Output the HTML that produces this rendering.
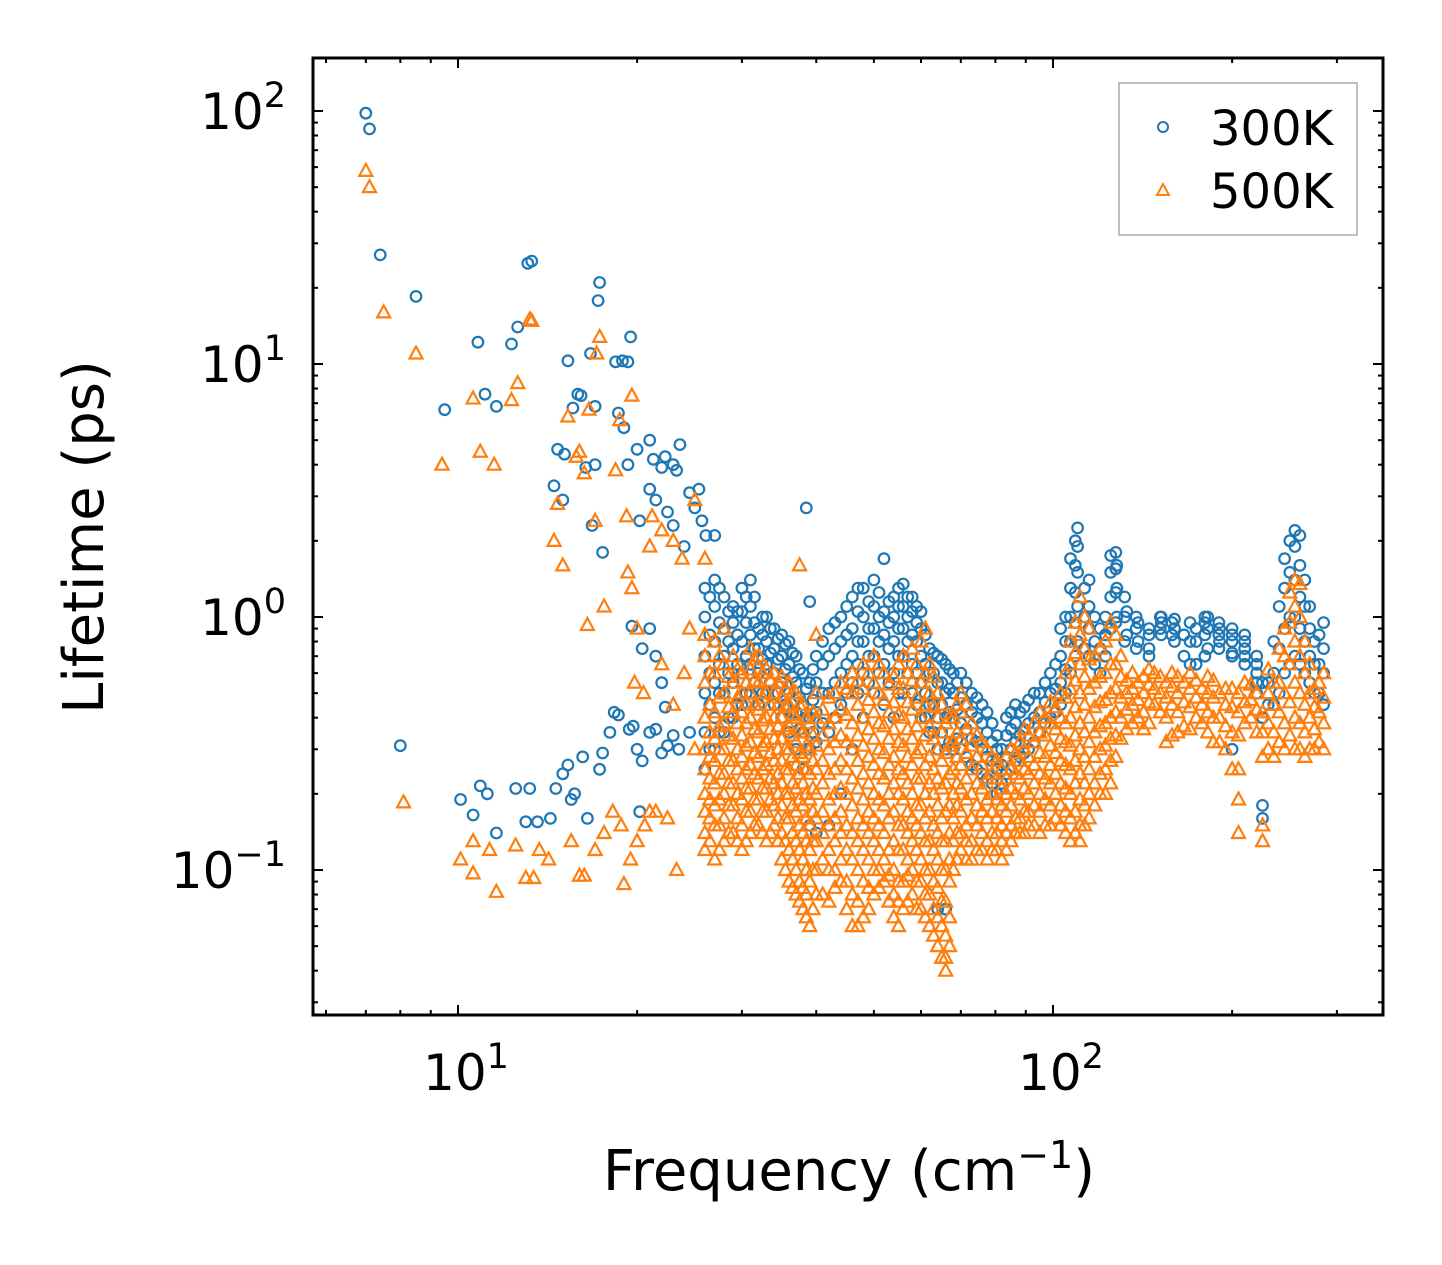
<!DOCTYPE html>
<html><head><meta charset="utf-8"><style>
html,body{margin:0;padding:0;background:#fff;}
svg{display:block;font-family:"DejaVu Sans","Liberation Sans",sans-serif;}
</style></head><body>
<svg id="chart" width="1442" height="1265" viewBox="0 0 1442 1265" xmlns="http://www.w3.org/2000/svg">
<rect width="1442" height="1265" fill="#fff"/>
<g id="marks"></g>
<g id="axes"></g>
<g id="legend">
<rect x="1119" y="83" width="238" height="152" fill="#fff" stroke="#aaa" stroke-width="1.5"/>
<circle cx="1163" cy="127" r="5" fill="none" stroke="#1f77b4" stroke-width="2"/>
<text x="1210" y="145" font-size="48">300K</text>
<polygon points="1163,184 1169,195 1157,195" fill="none" stroke="#ff7f0e" stroke-width="2"/>
<text x="1210" y="208" font-size="48">500K</text>
</g>
<text x="849" y="1190" font-size="56" text-anchor="middle">Frequency (cm<tspan dy="-22" font-size="38">−1</tspan><tspan dy="22">)</tspan></text>
<text transform="translate(103,537) rotate(-90)" font-size="56" text-anchor="middle">Lifetime (ps)</text>
</svg>
<script>
// ---- data ----
const blueSparseF = [7.0,7.1,7.4,8.5,9.5,10.8,11.1,11.6,12.3,12.6,13.1,13.3,14.5,14.7,15,15.1,15.3,15.6,15.9,16.1,16.4,16.7,17,17.2,17.3,17,16.8,17.5,18.4,18.9,19.3,19.5,18.6,19,19.3,20,20.2,21,21.3,22,22.3,23,23.3,23.6,24.5,25,25.4,26.1,27,25.7,21,21.5,22.5,23,24,38.5,8.0,10.1,10.6,10.9,11.2,11.6,12.5,13,13.2,13.6,14.3,14.6,15,15.3,15.5,15.7,16.2,16.5,17.3,17.5,18,18.3,18.6,19.4,19.7,20,20.4,21,21.5,22,22.5,23,20.2,19.6,20.4,21.5,21,22,22.3,23.5,24.5];
const blueSparseT = [98,85,27,18.5,6.6,12.2,7.6,6.8,12,14,25,25.5,3.3,4.6,2.9,4.4,10.3,6.7,7.6,7.5,3.9,11,6.8,17.8,21,4,2.3,1.8,10.2,10.3,10.2,12.8,6.4,5.6,4,4.6,2.4,5,4.2,3.9,4.3,4,3.8,4.8,3.1,2.7,3.2,2.1,2.1,2.4,3.2,2.9,2.6,2.3,1.9,2.7,0.31,0.19,0.165,0.215,0.2,0.14,0.21,0.155,0.21,0.155,0.16,0.21,0.24,0.26,0.19,0.2,0.28,0.16,0.25,0.29,0.35,0.42,0.41,0.36,0.37,0.3,0.27,0.35,0.36,0.29,0.31,0.34,0.17,0.92,0.75,0.7,0.9,0.55,0.44,0.3,0.35];
const blueColF = [26,27,28,29,30,31,32,33,34,35,36,37,38,39,40,42,44,46,48,50,52,54,56,58,60,62,64,66,68,70,73,76,79,82,85,88,91,95,99,103,107,110,115,120,125,128,132,138,145,152,160,170,180,190,200,210,220,225,235,245,255,265,275,285];
const blueColT = [[0.25,0.35,0.5,0.7,1.0,1.3],[0.3,0.4,0.55,0.8,1.1,1.4],[0.35,0.5,0.7,0.9,1.2],[0.4,0.55,0.75,0.95,1.1],[0.45,0.6,0.8,1.05,1.3],[0.5,0.65,0.85,1.1,1.4],[0.45,0.6,0.75,0.9],[0.5,0.65,0.8,1.0],[0.45,0.6,0.75,0.9],[0.4,0.55,0.7,0.85],[0.35,0.5,0.65,0.8],[0.3,0.42,0.55,0.7],[0.25,0.35,0.45,0.6],[0.15,0.3,0.4,0.55,1.15],[0.14,0.32,0.42,0.55,0.7],[0.15,0.35,0.5,0.7,0.9],[0.2,0.45,0.6,0.8,1.0],[0.3,0.55,0.7,0.9,1.2],[0.4,0.6,0.8,1.0,1.3],[0.5,0.7,0.9,1.1,1.4],[0.45,0.65,0.85,1.05,1.7],[0.4,0.6,0.8,1.0,1.2],[0.5,0.7,0.9,1.1,1.35],[0.5,0.65,0.85,1.05,1.2],[0.4,0.55,0.7,0.9,1.05],[0.35,0.45,0.6,0.75],[0.07,0.3,0.4,0.55,0.7],[0.07,0.3,0.4,0.5,0.65],[0.3,0.4,0.5,0.6],[0.3,0.38,0.48,0.6],[0.26,0.33,0.42,0.5],[0.24,0.3,0.38,0.45],[0.22,0.27,0.32,0.38],[0.22,0.26,0.3],[0.25,0.3,0.36,0.42],[0.28,0.34,0.42],[0.3,0.38,0.47],[0.35,0.42,0.5],[0.4,0.5,0.6],[0.45,0.55,0.7,0.9],[0.6,0.8,1.0,1.3,1.7],[0.8,1.1,1.5,1.9,2.25],[0.7,0.9,1.1,1.4],[0.6,0.75,0.9],[0.9,1.2,1.5,1.75],[1.0,1.3,1.6],[0.8,1.0,1.2],[0.75,0.9,1.0],[0.7,0.85],[0.85,0.95,1.0],[0.8,0.9,0.98],[0.65,0.8,0.95],[0.7,0.85,0.95,1.0],[0.75,0.85,0.95],[0.3,0.7,0.8,0.9],[0.65,0.75,0.85],[0.5,0.6,0.7],[0.16,0.18,0.4,0.55],[0.45,0.6,0.8],[0.6,0.9,1.3,1.7],[0.7,1.0,1.4,1.9,2.2],[0.6,0.8,1.1,1.4],[0.5,0.65,0.8],[0.45,0.6,0.75,0.95]];
const blueColF2 = [26.5,27.5,28.5,29.5,30.5,31.5,32.5,33.5,34.5,35.5,36.5,37.5,38.5,39.5,41,43,45,47,49,51,53,55,57,59,61,63,65,67,69,71.5,74.5,77.5,80.5,83.5,86.5,89.5,93,97,101,105,109,113,117.5,122.5,127.5,133,139,145,151.5,158.5,166,174,182,190.5,200,210,220,230,240,250,260,270,280];
const blueColT2 = [[0.3,0.45,0.6,0.85,1.2],[0.35,0.5,0.65,0.95,1.3],[0.4,0.6,0.8,1.05],[0.45,0.65,0.85,1.05],[0.5,0.7,0.95,1.2],[0.55,0.75,0.95,1.2],[0.5,0.68,0.85,1.0],[0.55,0.72,0.9],[0.5,0.68,0.82],[0.45,0.62,0.78],[0.42,0.58,0.72],[0.36,0.48,0.62],[0.3,0.4,0.52],[0.35,0.47,0.62],[0.38,0.5,0.65,0.8],[0.4,0.55,0.75,0.95],[0.5,0.65,0.85,1.1],[0.5,0.65,0.8,1.05,1.3],[0.55,0.7,0.9,1.15],[0.6,0.8,1.0,1.25],[0.55,0.75,0.95,1.15],[0.5,0.7,0.9,1.1,1.3],[0.6,0.8,1.0,1.2],[0.45,0.6,0.8,0.95,1.1],[0.4,0.5,0.65,0.85],[0.35,0.45,0.6,0.72],[0.35,0.45,0.55,0.68],[0.32,0.42,0.52,0.62],[0.33,0.43,0.55],[0.28,0.36,0.45,0.55],[0.25,0.32,0.4,0.48],[0.23,0.28,0.35,0.42],[0.2,0.25,0.3,0.34],[0.24,0.28,0.34,0.4],[0.27,0.32,0.38,0.45],[0.29,0.36,0.44],[0.32,0.4,0.5],[0.38,0.46,0.55],[0.42,0.52,0.65],[0.5,0.62,0.8,1.0],[0.7,0.95,1.25,1.6,2.0],[0.75,1.0,1.3],[0.65,0.8,1.0],[0.7,0.85,1.0],[0.95,1.25,1.55,1.8],[0.85,1.05],[0.8,0.95],[0.75,0.9],[0.9,1.0],[0.85,0.95],[0.7,0.85],[0.65,0.8,0.9],[0.75,0.9,1.0],[0.8,0.9],[0.72,0.85],[0.7,0.8],[0.55,0.65],[0.45,0.55],[0.5,0.75,1.1],[0.65,1.0,1.5,2.0],[0.65,0.9,1.2,1.6,2.1],[0.55,0.7,0.9,1.1],[0.5,0.65,0.85]];
const orangeSparseF = [7.0,7.1,7.5,8.5,8.1,9.4,10.1,10.6,10.6,10.9,11.5,11.6,11.3,10.6,12.3,12.6,13.2,13.3,12.5,13,13.4,13.7,14.2,14.5,14.7,15,15.3,15.8,16,16.3,16.6,17,17.1,17.3,17.6,16.5,15.5,16,16.3,17,17.6,18.4,18.7,19.2,19.6,19.3,19.6,20,19.8,20.5,21,21.2,22,23,23.8,24.5,25,26,19,19.5,20,20.6,21,21.5,22.5,23.3,18.2,18.8,37.5,40,22,23,24,25];
const orangeSparseT = [58,50,16,11,0.185,4,0.11,0.13,0.097,4.5,4,0.082,0.12,7.3,7.2,8.4,15,14.8,0.125,0.093,0.093,0.12,0.11,2,2.8,1.6,6.2,4.3,4.5,3.7,6.6,2.4,11,12.8,1.1,0.93,0.13,0.095,0.095,0.12,0.14,3.8,6,2.5,7.5,1.5,1.3,0.9,0.55,0.5,1.9,2.5,2.2,2,1.7,0.9,2.9,1.7,0.088,0.11,0.13,0.15,0.17,0.17,0.16,0.1,0.17,0.15,1.6,0.85,0.65,0.45,0.6,0.3];
const orangeColF = [26,27,28,29,30,31,32,33,34,35,36,37,38,39,40,42,44,46,48,50,52,54,56,58,60,62,64,66,68,70,73,76,79,82,85,88,91,95,99,103,107,111,115,120,125,130,136,142,148,155,162,170,178,186,195,205,215,225,235,245,255,265,275,285];
const orangeColT = [[0.12,0.14,0.17,0.2,0.25,0.3,0.4,0.55,0.7,0.85],[0.11,0.15,0.18,0.22,0.27,0.33,0.42,0.6,0.8],[0.13,0.16,0.2,0.24,0.3,0.38,0.5,0.65,0.9],[0.14,0.18,0.22,0.27,0.33,0.42,0.55,0.7],[0.12,0.15,0.19,0.23,0.28,0.34,0.42,0.5,0.6],[0.14,0.17,0.21,0.26,0.32,0.4,0.5,0.62,0.75],[0.15,0.19,0.23,0.28,0.35,0.43,0.55,0.7],[0.13,0.17,0.21,0.26,0.32,0.4,0.5,0.62],[0.15,0.18,0.22,0.27,0.33,0.4,0.5,0.6],[0.11,0.14,0.18,0.22,0.27,0.33,0.4,0.48,0.58],[0.09,0.12,0.16,0.2,0.25,0.3,0.37,0.45,0.55],[0.08,0.1,0.13,0.17,0.21,0.26,0.32,0.4,0.5],[0.07,0.085,0.11,0.14,0.18,0.22,0.28,0.35,0.45],[0.06,0.09,0.12,0.15,0.19,0.24,0.3,0.38],[0.08,0.1,0.13,0.16,0.2,0.25,0.31,0.4,0.5],[0.075,0.1,0.12,0.15,0.19,0.24,0.3,0.38,0.48],[0.09,0.11,0.14,0.17,0.21,0.27,0.34,0.43,0.55],[0.06,0.08,0.11,0.14,0.18,0.23,0.3,0.38,0.5,0.6],[0.065,0.09,0.12,0.15,0.19,0.24,0.31,0.4,0.52,0.65],[0.08,0.1,0.13,0.16,0.2,0.26,0.33,0.42,0.55,0.7],[0.09,0.11,0.14,0.18,0.23,0.29,0.37,0.47,0.6],[0.065,0.08,0.1,0.13,0.17,0.22,0.28,0.36,0.46,0.58],[0.07,0.09,0.12,0.15,0.19,0.24,0.31,0.4,0.52,0.7],[0.08,0.1,0.13,0.16,0.2,0.26,0.33,0.43,0.56,0.75],[0.07,0.09,0.11,0.14,0.18,0.23,0.3,0.4,0.55,0.8],[0.06,0.08,0.1,0.13,0.17,0.22,0.28,0.37,0.5,0.65],[0.05,0.065,0.085,0.11,0.14,0.18,0.23,0.3,0.4,0.5],[0.04,0.045,0.055,0.075,0.1,0.13,0.17,0.22,0.29,0.38],[0.1,0.13,0.16,0.2,0.25,0.32,0.4],[0.12,0.14,0.17,0.21,0.26,0.33,0.42,0.5],[0.11,0.13,0.16,0.2,0.25,0.31,0.38],[0.12,0.14,0.17,0.21,0.26,0.32],[0.12,0.14,0.17,0.2,0.24,0.28],[0.11,0.13,0.15,0.18,0.21,0.25],[0.13,0.15,0.18,0.21,0.25,0.3],[0.14,0.16,0.19,0.23,0.27,0.32],[0.15,0.17,0.2,0.24,0.28,0.34],[0.14,0.17,0.2,0.24,0.29,0.35,0.42],[0.15,0.18,0.22,0.26,0.31,0.38,0.46],[0.15,0.18,0.22,0.27,0.33,0.4,0.5],[0.13,0.16,0.2,0.25,0.31,0.4,0.52,0.65,0.8],[0.13,0.15,0.19,0.24,0.3,0.38,0.5,0.65,0.85,1.2],[0.16,0.2,0.25,0.32,0.4,0.52,0.68,0.9],[0.2,0.24,0.3,0.37,0.46,0.58,0.75],[0.22,0.27,0.33,0.4,0.5,0.65,0.95],[0.33,0.4,0.48,0.58,0.7],[0.38,0.45,0.52,0.6],[0.36,0.42,0.5,0.58],[0.45,0.52,0.6],[0.32,0.4,0.48,0.55],[0.35,0.42,0.5,0.58],[0.36,0.44,0.52,0.6],[0.38,0.45,0.52],[0.32,0.4,0.48,0.56],[0.3,0.37,0.45,0.52],[0.14,0.19,0.25,0.34,0.42,0.5],[0.4,0.47,0.54],[0.13,0.15,0.28,0.35,0.42],[0.28,0.35,0.45,0.55],[0.3,0.38,0.5,0.7,0.9],[0.3,0.4,0.55,0.8,1.1,1.4],[0.28,0.35,0.45,0.6,0.8],[0.3,0.36,0.44,0.52],[0.3,0.38,0.48,0.6]];
const orangeColF2 = [26.5,27.5,28.5,29.5,30.5,31.5,32.5,33.5,34.5,35.5,36.5,37.5,38.5,39.5,41,43,45,47,49,51,53,55,57,59,61,63,65,67,69,71.5,74.5,77.5,80.5,83.5,86.5,89.5,93,97,101,105,109,113,117.5,122.5,127.5,133,139,145,151.5,158.5,166,174,182,190.5,200,210,220,230,240,250,260,270,280];
const orangeColT2 = [[0.13,0.16,0.19,0.23,0.28,0.35,0.45,0.6],[0.12,0.15,0.19,0.24,0.3,0.37,0.48,0.7],[0.14,0.18,0.22,0.27,0.34,0.44,0.58],[0.13,0.16,0.2,0.25,0.3,0.38,0.48,0.62],[0.13,0.17,0.21,0.25,0.31,0.38,0.46,0.55],[0.15,0.19,0.24,0.29,0.36,0.45,0.56,0.68],[0.14,0.17,0.21,0.25,0.31,0.39,0.48,0.6],[0.14,0.19,0.23,0.29,0.36,0.45,0.56],[0.13,0.16,0.2,0.24,0.3,0.37,0.45,0.55],[0.1,0.13,0.16,0.2,0.25,0.3,0.36,0.44,0.52],[0.085,0.11,0.14,0.18,0.22,0.28,0.34,0.41,0.5],[0.075,0.09,0.12,0.15,0.19,0.24,0.29,0.36,0.45],[0.065,0.08,0.1,0.13,0.16,0.2,0.25,0.31,0.4],[0.07,0.1,0.13,0.17,0.21,0.27,0.34,0.42],[0.08,0.11,0.14,0.17,0.22,0.27,0.34,0.43],[0.085,0.1,0.13,0.16,0.2,0.25,0.32,0.4,0.5],[0.07,0.09,0.12,0.15,0.2,0.25,0.32,0.41,0.52],[0.06,0.075,0.1,0.13,0.16,0.21,0.27,0.34,0.45,0.56],[0.07,0.085,0.11,0.14,0.17,0.22,0.28,0.36,0.47,0.6],[0.085,0.1,0.12,0.15,0.19,0.24,0.3,0.38,0.5,0.65],[0.075,0.095,0.12,0.16,0.2,0.26,0.33,0.42,0.54],[0.06,0.075,0.09,0.12,0.15,0.2,0.25,0.32,0.41,0.52,0.65],[0.075,0.095,0.11,0.14,0.17,0.22,0.28,0.36,0.46,0.6],[0.07,0.09,0.12,0.15,0.18,0.23,0.29,0.37,0.48,0.65],[0.065,0.08,0.1,0.13,0.16,0.2,0.26,0.34,0.45,0.6,0.9],[0.055,0.07,0.09,0.12,0.15,0.2,0.25,0.33,0.44,0.58],[0.045,0.06,0.075,0.1,0.13,0.16,0.21,0.27,0.35,0.45],[0.05,0.065,0.09,0.11,0.14,0.18,0.24,0.31,0.4],[0.11,0.14,0.18,0.22,0.28,0.35,0.45],[0.11,0.13,0.15,0.19,0.23,0.29,0.36,0.45],[0.12,0.15,0.18,0.22,0.28,0.34],[0.11,0.13,0.16,0.19,0.23,0.3],[0.12,0.14,0.16,0.19,0.23,0.27],[0.12,0.14,0.17,0.2,0.23,0.28],[0.14,0.16,0.2,0.24,0.29],[0.14,0.17,0.21,0.25,0.3,0.36],[0.15,0.18,0.22,0.26,0.32,0.38],[0.15,0.19,0.23,0.28,0.34,0.4],[0.16,0.2,0.24,0.29,0.36,0.44],[0.14,0.17,0.21,0.26,0.32,0.38,0.48,0.6],[0.14,0.17,0.22,0.27,0.34,0.44,0.56,0.72,0.95],[0.15,0.18,0.22,0.28,0.35,0.45,0.58,0.75,1.0],[0.18,0.22,0.28,0.35,0.44,0.55,0.7],[0.2,0.25,0.31,0.38,0.47,0.6,0.8],[0.28,0.34,0.42,0.52,0.65,0.85],[0.36,0.43,0.5,0.56],[0.4,0.47,0.55],[0.38,0.46,0.54,0.62],[0.42,0.5,0.58],[0.34,0.45,0.53,0.6],[0.37,0.46,0.55],[0.4,0.48,0.56],[0.35,0.42,0.5,0.58],[0.32,0.4,0.5],[0.25,0.35,0.44,0.52],[0.38,0.46,0.55],[0.35,0.43,0.5],[0.3,0.38,0.5,0.62],[0.32,0.42,0.55,0.75],[0.34,0.46,0.65,0.95,1.25],[0.3,0.38,0.5,0.7,1.0,1.35],[0.3,0.4,0.5,0.65],[0.32,0.42,0.55]];
const xTickVals = [10,100];
const xTickExp = ["1","2"];
const yTickVals = [0.1,1,10,100];
const yTickExp = ["−1","0","1","2"];

// ---- axes ----
const L=313,R=1383,T=58,B=1015;
const X0=458, XD=595, Y0=617, YD=253;
function sx(f){return X0+(Math.log10(f)-1)*XD;}
function sy(t){return Y0-Math.log10(t)*YD;}
const NS="http://www.w3.org/2000/svg";
const marks=document.getElementById('marks');
const axes=document.getElementById('axes');
function mk(tag,attrs,parent){const e=document.createElementNS(NS,tag);for(const k in attrs)e.setAttribute(k,attrs[k]);parent.appendChild(e);return e;}

function circle(f,t){
  const c=mk('circle',{cx:sx(f).toFixed(1),cy:sy(t).toFixed(1),r:5.3,fill:'none',stroke:'#1f77b4','stroke-width':2.2},marks);
  
  
}
function tri(f,t){
  const x=sx(f),y=sy(t);
  const p=mk('polygon',{points:`${x},${y-7} ${x+6.5},${y+5} ${x-6.5},${y+5}`,fill:'none',stroke:'#ff7f0e','stroke-width':2.2},marks);
  
  
}
blueSparseF.forEach((f,i)=>circle(f,blueSparseT[i]));
blueColF.forEach((f,i)=>blueColT[i].forEach(t=>circle(f,t)));
blueColF2.forEach((f,i)=>blueColT2[i].forEach(t=>circle(f,t)));
orangeSparseF.forEach((f,i)=>tri(f,orangeSparseT[i]));
orangeColF.forEach((f,i)=>orangeColT[i].forEach(t=>tri(f,t)));
orangeColF2.forEach((f,i)=>orangeColT2[i].forEach(t=>tri(f,t)));

// spines
const sp=mk('rect',{x:L,y:T,width:R-L,height:B-T,fill:'none',stroke:'#000','stroke-width':3},axes);



for(let d=0;d<=2;d++){for(let m=1;m<=9;m++){
  const v=m*Math.pow(10,d); const x=sx(v); if(x<L||x>R)continue;
  const len=m===1?10:5;
  const a=mk('line',{x1:x,y1:B,x2:x,y2:B-len,stroke:'#000','stroke-width':2},axes);
  
  
  const b=mk('line',{x1:x,y1:T,x2:x,y2:T+len,stroke:'#000','stroke-width':2},axes);
  
  
}}
for(let d=-2;d<=2;d++){for(let m=1;m<=9;m++){
  const v=m*Math.pow(10,d); const y=sy(v); if(y<T||y>B)continue;
  const len=m===1?10:5;
  const a=mk('line',{x1:L,y1:y,x2:L+len,y2:y,stroke:'#000','stroke-width':2},axes);
  
  
  const b=mk('line',{x1:R,y1:y,x2:R-len,y2:y,stroke:'#000','stroke-width':2},axes);
  
  
}}
xTickVals.forEach((v,i)=>{
  const t=mk('text',{x:sx(v)+8,y:1090,'font-size':50,'text-anchor':'middle'},axes);
  t.innerHTML='10<tspan dy="-22" font-size="35">'+xTickExp[i]+'</tspan>';
  
  
});
yTickVals.forEach((v,i)=>{
  const t=mk('text',{x:286,y:sy(v)+18,'font-size':50,'text-anchor':'end'},axes);
  t.innerHTML='10<tspan dy="-22" font-size="35">'+yTickExp[i]+'</tspan>';
  
  
});
</script>
</body></html>
